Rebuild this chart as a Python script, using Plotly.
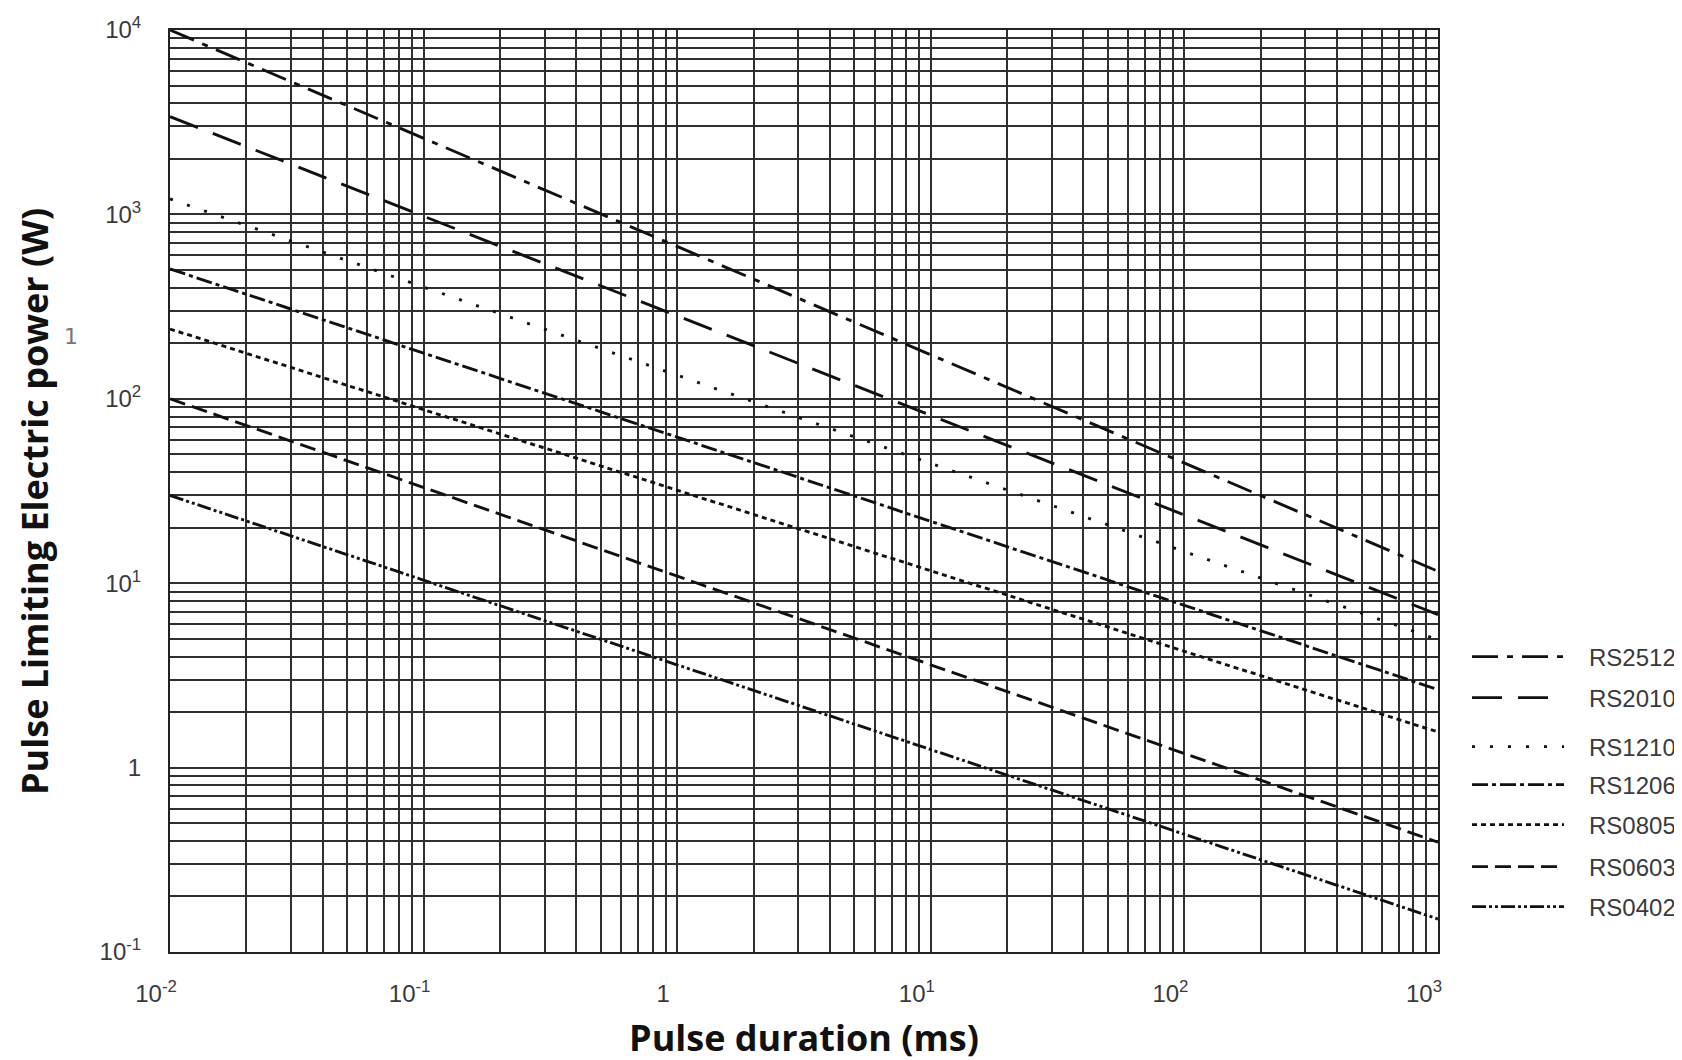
import plotly.graph_objects as go

# ---- data ----
pulse_ms = [0.01, 0.1, 1, 10, 100, 1000]

rs2512 = [10000, 2590, 670, 173, 44.9, 11.6]
rs2010 = [3390, 977, 282, 81.3, 23.4, 6.76]
rs1210 = [1213, 404, 134, 44.7, 14.9, 4.94]
rs1206 = [506, 177, 61.9, 21.7, 7.59, 2.65]
rs0805 = [239, 87.5, 31.9, 11.7, 4.26, 1.56]
rs0603 = [100, 33.0, 10.9, 3.61, 1.19, 0.394]
rs0402 = [29.9, 10.4, 3.61, 1.25, 0.435, 0.151]

series_names = ["RS2512", "RS2010", "RS1210", "RS1206", "RS0805", "RS0603", "RS0402"]
series_values = [rs2512, rs2010, rs1210, rs1206, rs0805, rs0603, rs0402]

x_tickvals = [0.01, 0.1, 1, 10, 100, 1000]
x_ticktext = ["10<sup>-2</sup>", "10<sup>-1</sup>", "1", "10<sup>1</sup>", "10<sup>2</sup>", "10<sup>3</sup>"]
y_tickvals = [0.1, 1, 10, 100, 1000, 10000]
y_ticktext = ["10<sup>-1</sup>", "1", "10<sup>1</sup>", "10<sup>2</sup>", "10<sup>3</sup>", "10<sup>4</sup>"]

# ---- styles ----
dashes = [
    "26px,9px,6px,9px",
    "30px,16px",
    "3px,15px",
    "16px,4px,4px,4px",
    "5px,4px",
    "16px,7px",
    "14px,3px,3px,3px,3px,3px",
]
legend_rows_px = [649, 690, 739, 777, 817, 859, 899]

W, H = 1682, 1060
L, R, T, B = 162, 252, 22, 116
PW, PH = W - L - R, H - T - B

fig = go.Figure()
for i, (name, vals) in enumerate(zip(series_names, series_values)):
    lg = "legend" if i == 0 else f"legend{i+1}"
    fig.add_trace(go.Scatter(
        x=pulse_ms, y=vals, mode="lines",
        name="\u00a0\u00a0\u00a0" + name,
        line=dict(color="#111111", width=2.9, dash=dashes[i]),
        legend=lg, cliponaxis=False,
    ))

grid_col = "#303030"
axis_common = dict(
    type="log",
    showgrid=True, gridcolor=grid_col, gridwidth=1.7,
    showline=True, linecolor="#222222", linewidth=2, mirror=True,
    ticks="", zeroline=False,
    tickfont=dict(family="Liberation Sans, Arial, sans-serif", size=24, color="#3a3a3a"),
    minor=dict(dtick="D1", showgrid=True, gridcolor=grid_col, gridwidth=1.7, ticks=""),
)

title_font = dict(family="Open Sans, sans-serif", size=36, color="#111111", weight="bold")

fig.update_xaxes(
    **axis_common,
    range=[-2, 3],
    tickmode="array", tickvals=x_tickvals, ticktext=x_ticktext,
    ticklabelstandoff=19, ticklabelshift=-14,
    title=dict(text="Pulse duration (ms)", standoff=20, font=title_font),
)
fig.update_yaxes(
    **axis_common,
    range=[-1, 4],
    tickmode="array", tickvals=y_tickvals, ticktext=y_ticktext,
    ticklabelstandoff=22,
)

layout_legends = {}
for i in range(len(series_names)):
    key = "legend" if i == 0 else f"legend{i+1}"
    layout_legends[key] = dict(
        x=(1459 - L) / PW, y=(944 - legend_rows_px[i]) / PH,
        xanchor="left", yanchor="middle",
        bgcolor="rgba(0,0,0,0)", borderwidth=0,
        itemwidth=92,
        font=dict(family="Liberation Sans, Arial, sans-serif", size=24, color="#3a3a3a"),
    )

fig.update_layout(
    width=W, height=H,
    margin=dict(l=L, r=R, t=T, b=B, autoexpand=False),
    paper_bgcolor="white", plot_bgcolor="white",
    showlegend=True,
    annotations=[
        dict(text="Pulse Limiting Electric power (W)", textangle=-90,
             xref="paper", yref="paper",
             x=(26 - L) / PW, y=(944 - 494) / PH,
             xanchor="center", yanchor="middle",
             showarrow=False, font=title_font),
        dict(text="1", xref="paper", yref="paper",
             x=(63 - L) / PW, y=(944 - 328) / PH,
             xanchor="center", yanchor="middle",
             showarrow=False,
             font=dict(family="DejaVu Sans, sans-serif", size=22, color="#777777")),
    ],
    **layout_legends,
)

fig.write_html("out.html")
